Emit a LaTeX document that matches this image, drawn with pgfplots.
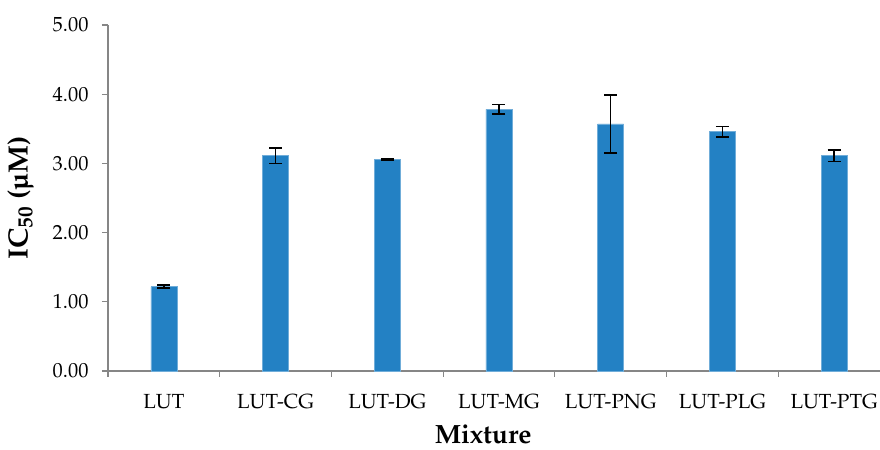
\documentclass[border=0pt]{standalone}
\usepackage[T1]{fontenc}
\usepackage{mathpazo}
\usepackage{pgfplots}
\pgfplotsset{compat=1.18}
\definecolor{barblue}{HTML}{2381C4}
\definecolor{axgray}{HTML}{868686}
\begin{document}
\begin{tikzpicture}[x=1bp,y=1bp]
\useasboundingbox (-108,-79) rectangle (772,371);
\begin{axis}[
  at={(0,0)}, anchor=south west,
  scale only axis, width=772bp, height=346bp,
  xmin=-0.5, xmax=6.411, ymin=0, ymax=5,
  axis x line*=bottom, axis y line*=left,
  axis line style={draw=axgray, line width=1.5bp},
  tick align=outside,
  ytick={0,1,2,3,4,5},
  y tick style={draw=axgray, line width=1.2bp},
  major tick length=6bp,
  yticklabel style={xshift=-10bp, /pgf/number format/.cd, fixed, fixed zerofill, precision=2},
  xtick={0,1,2,3,4,5,6},
  xticklabels={LUT,LUT-CG,LUT-DG,LUT-MG,LUT-PNG,LUT-PLG,LUT-PTG},
  major x tick style={draw=none},
  minor xtick={-0.5,0.5,1.5,2.5,3.5,4.5,5.5},
  minor x tick style={draw=axgray, line width=1.2bp},
  minor tick length=6bp,
  ticklabel style={font=\fontsize{20.5}{24}\selectfont, text=black},
  xticklabel style={yshift=-14bp},
  label style={font=\fontsize{26.5}{30}\selectfont\bfseries},
  xlabel={Mixture},
  ylabel={IC\textsubscript{50} (\textmu M)},
  xlabel style={at={(ticklabel cs:0.486)}, anchor=north, yshift=-9bp},
  ylabel style={font=\fontsize{28}{32}\selectfont\bfseries, yshift=12bp},
  ybar, bar width=26bp,
  clip=false,
]
\addplot[fill=barblue, draw=barblue!65!white, line width=0.6bp, bar shift=0pt,
  error bars/.cd, y dir=both, y explicit,
  error bar style={line width=1.6bp, black},
  error mark options={rotate=90, mark size=6.5bp, line width=1.6bp, black}]
  table[x=x, y=y, y error=e] {
  x y e
  0 1.22 0.02
  1 3.11 0.11
  2 3.06 0.01
  3 3.78 0.07
  4 3.57 0.42
  5 3.46 0.075
  6 3.11 0.08
};
\end{axis}
\end{tikzpicture}
\end{document}
